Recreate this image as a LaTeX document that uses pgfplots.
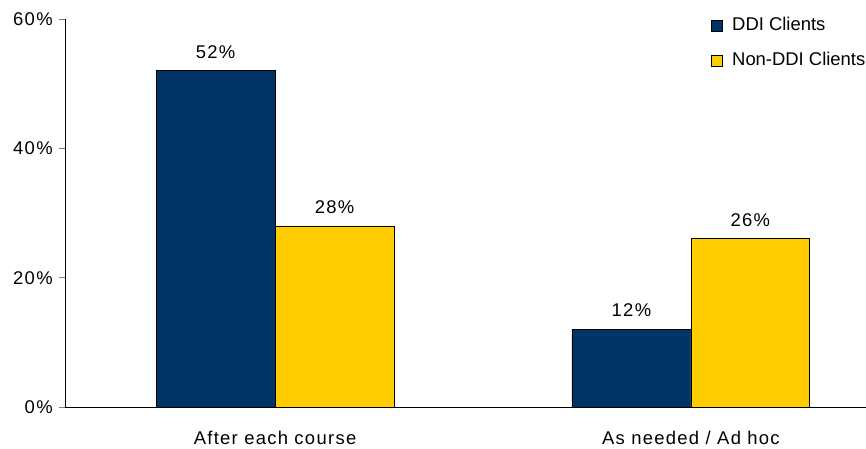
\documentclass[border=0pt]{standalone}
\usepackage{pgfplots}
\pgfplotsset{compat=1.18}
\usepackage{fontspec}
\setmainfont{Liberation Sans}
\newfontfamily\spaced{Liberation Sans}[LetterSpace=7]
\definecolor{ddinavy}{RGB}{0,51,102}
\definecolor{ddiyellow}{RGB}{255,204,0}
\begin{document}
\fontsize{18.5}{22}\selectfont
\begin{tikzpicture}
\useasboundingbox (-65bp,-42bp) rectangle (801bp,407bp);
\begin{axis}[
  scale only axis,
  width=801bp, height=388bp,
  xmin=-0.505, xmax=1.421,
  ymin=0, ymax=60,
  axis x line=bottom, axis y line=left,
  axis line style={-, line width=0.8bp},
  xtick={0,1},
  xticklabels={After each course, As needed / Ad hoc},
  minor xtick={0.5},
  ytick={0,20,40,60},
  yticklabel={\pgfmathprintnumber{\tick}\%},
  /pgf/number format/assume math mode=true,
  tick align=outside,
  major tick length=6bp, minor tick length=6bp,
  xtick style={draw=none},
  minor tick style={draw=black, line width=0.8bp},
  ytick style={line width=0.8bp},
  ticklabel style={font=\spaced},
  yticklabel style={xshift=0bp},
  xticklabel style={yshift=-12bp},
  ybar, bar width=0.286,
  nodes near coords={\pgfmathprintnumber{\pgfplotspointmeta}\%},
  nodes near coords style={yshift=6bp, font=\spaced},
  legend style={at={(rel axis cs:0.803,1.0095)}, anchor=north west, draw=none, fill=none,
    nodes={inner sep=0pt, text height=13bp, text depth=4bp, anchor=west},
    row sep=18bp, column sep=9bp},
  legend cell align=left,
  legend image code/.code={\draw[#1, line width=0.8bp] (0bp,-5.5bp) rectangle (11bp,5.5bp);},
]
\addplot[fill=ddinavy, draw=black, line width=0.8bp, bar shift=-0.143] coordinates {(0,52) (1,12)};
\addplot[fill=ddiyellow, draw=black, line width=0.8bp, bar shift=0.143] coordinates {(0,28) (1,26)};
\legend{DDI Clients, Non-DDI Clients}
\end{axis}
\end{tikzpicture}
\end{document}
